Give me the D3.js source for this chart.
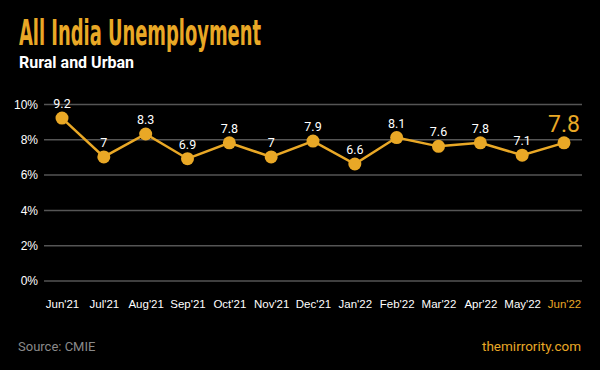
<!DOCTYPE html>
<html>
<head>
<meta charset="utf-8">
<script src="https://cdn.jsdelivr.net/npm/d3@7"></script>
<style>
  body { margin: 0; background: #000; }
  svg { display: block; font-family: Roboto, "Noto Sans", sans-serif; }
</style>
</head>
<body>
<script>
// chart data
var months = ["Jun'21","Jul'21","Aug'21","Sep'21","Oct'21","Nov'21","Dec'21","Jan'22","Feb'22","Mar'22","Apr'22","May'22","Jun'22"];
var rates = [9.2, 7, 8.3, 6.9, 7.8, 7, 7.9, 6.6, 8.1, 7.6, 7.8, 7.1, 7.8];
var yTicks = [0, 2, 4, 6, 8, 10];

var gold = "#e9a826";
var width = 600, height = 370;

var svg = d3.select("body").append("svg")
    .attr("width", width)
    .attr("height", height)
    .style("background", "#000");

// titles
svg.append("text")
    .attr("x", 19)
    .attr("y", 45)
    .attr("textLength", 242)
    .attr("lengthAdjust", "spacingAndGlyphs")
    .style("font-family", "'Liberation Sans Narrow', 'DejaVu Sans Condensed', sans-serif")
    .style("font-size", "36px")
    .style("font-weight", "bold")
    .style("fill", gold)
    .text("All India Unemployment");

svg.append("text")
    .attr("x", 19)
    .attr("y", 68)
    .style("font-size", "16px")
    .style("font-weight", "bold")
    .style("fill", "#fff")
    .text("Rural and Urban");

// scales
var x = d3.scalePoint()
    .domain(months)
    .range([62, 564]);

var y = d3.scaleLinear()
    .domain([0, 10])
    .range([280.5, 104]);

// gridlines + y labels
var yAxis = svg.append("g")
    .attr("transform", "translate(44,0)")
    .call(d3.axisLeft(y).tickValues(yTicks).tickSize(-538).tickPadding(6)
        .tickFormat(function(d) { return d + "%"; }));
yAxis.select(".domain").remove();
yAxis.selectAll(".tick line").attr("stroke", "#555").attr("stroke-width", 1.5);
yAxis.selectAll(".tick text")
    .style("font-size", "12px")
    .style("fill", "#fff")
    .attr("dy", "0.35em");

// x labels
var xAxis = svg.append("g")
    .attr("transform", "translate(0,298)")
    .call(d3.axisBottom(x).tickSize(0).tickPadding(2));
xAxis.select(".domain").remove();
xAxis.selectAll(".tick text")
    .style("font-size", "11.5px")
    .style("font-weight", "500")
    .style("fill", function(d, i) { return i == months.length - 1 ? gold : "#fff"; });

// line
var line = d3.line()
    .x(function(d, i) { return x(months[i]); })
    .y(function(d) { return y(d); });

svg.append("path")
    .datum(rates)
    .attr("fill", "none")
    .attr("stroke", gold)
    .attr("stroke-width", 2.5)
    .attr("d", line);

svg.selectAll(".dot")
    .data(rates)
    .enter().append("circle")
    .attr("class", "dot")
    .attr("cx", function(d, i) { return x(months[i]); })
    .attr("cy", function(d) { return y(d); })
    .attr("r", 6.5)
    .attr("fill", gold);

// value labels
svg.selectAll(".val")
    .data(rates)
    .enter().append("text")
    .attr("class", "val")
    .attr("x", function(d, i) { return x(months[i]); })
    .attr("y", function(d, i) { return y(d) - (i == rates.length - 1 ? 11 : 10); })
    .attr("text-anchor", "middle")
    .style("font-size", function(d, i) { return i == rates.length - 1 ? "23px" : "12.5px"; })
    .style("fill", function(d, i) { return i == rates.length - 1 ? gold : "#fff"; })
    .text(function(d) { return d; });

// footer
svg.append("text")
    .attr("x", 18)
    .attr("y", 351)
    .style("font-size", "13px")
    .style("fill", "#8a8a8a")
    .text("Source: CMIE");

svg.append("text")
    .attr("x", 581)
    .attr("y", 351)
    .attr("text-anchor", "end")
    .style("font-size", "13.5px")
    .style("fill", gold)
    .text("themirrority.com");
</script>
</body>
</html>
